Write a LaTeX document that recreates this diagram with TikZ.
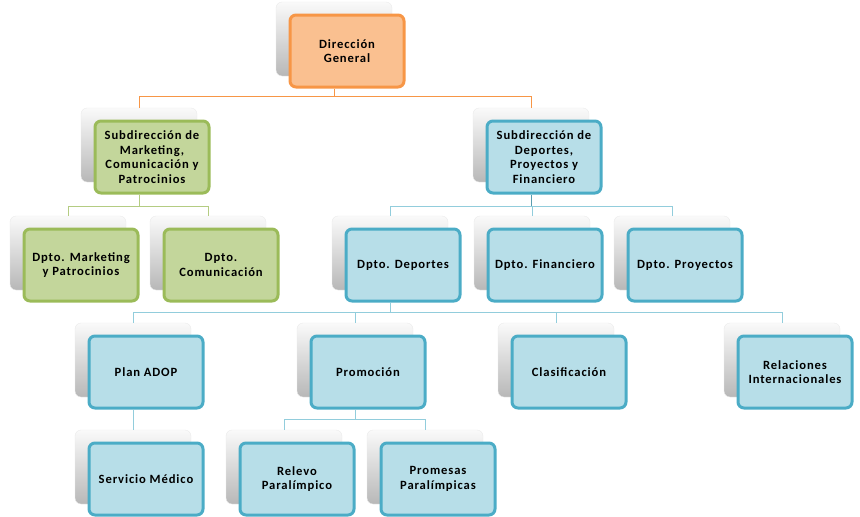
\documentclass[tikz,border=0pt]{standalone}
\usepackage{fontspec}
\setmainfont{Carlito}[LetterSpace=7]

\definecolor{orangeFill}{HTML}{FAC090}
\definecolor{orangeLine}{HTML}{F79646}
\definecolor{greenFill}{HTML}{C3D69B}
\definecolor{greenLine}{HTML}{9BBB59}
\definecolor{blueFill}{HTML}{B7DEE8}
\definecolor{blueLine}{HTML}{4BACC6}
\definecolor{blueWire}{HTML}{92CDDC}
\definecolor{blueDark}{HTML}{31859C}

\tikzset{
   orgbox/.style={rectangle, rounded corners=6pt, line width=3pt,
      minimum width=114pt, minimum height=72pt, inner sep=1pt,
      align=center, font=\bfseries\fontsize{12.6}{14.5}\selectfont},
   orangebox/.style={orgbox, draw=orangeLine, fill=orangeFill},
   greenbox/.style={orgbox, draw=greenLine, fill=greenFill},
   bluebox/.style={orgbox, draw=blueLine, fill=blueFill},
   backcard/.style={rectangle, rounded corners=6pt, draw=black!8,
      minimum width=116pt, minimum height=74pt,
      top color=black!2, bottom color=black!28,
      xshift=-13pt, yshift=12pt},
   orangewire/.style={draw=orangeLine, line width=0.9pt},
   greenwire/.style={draw=greenLine!75, line width=0.9pt},
   bluewire/.style={draw=blueWire, line width=0.9pt}
}

% caja con tarjeta gris detras: nombre, posicion, estilo, texto
\newcommand{\orgnode}[4]{%
   \node[backcard] (#1Back) at (#2) {};
   \node[#3] (#1) at (#2) {#4};}

\begin{document}
\begin{tikzpicture}[x=1pt, y=-1pt]
   %% coordenadas en pixeles, y hacia abajo
   \useasboundingbox (0,0) rectangle (860,517);

   \orgnode{Dir}{347,51}{orangebox}{Dirección\\General}
   \orgnode{SubMkt}{152,157}{greenbox}{Subdirección de\\Marketing,\\Comunicación y\\Patrocinios}
   \orgnode{SubDep}{544,157}{bluebox}{Subdirección de\\Deportes,\\Proyectos y\\Financiero}
   \orgnode{DptMkt}{81,265}{greenbox}{Dpto. Marketing\\y Patrocinios}
   \orgnode{DptCom}{221,265}{greenbox}{Dpto.\\Comunicación}
   \orgnode{DptDep}{403,265}{bluebox}{Dpto. Deportes}
   \orgnode{DptFin}{545,265}{bluebox}{Dpto. Financiero}
   \orgnode{DptPro}{685,265}{bluebox}{Dpto. Proyectos}
   \orgnode{Plan}{146,372}{bluebox}{Plan ADOP}
   \orgnode{Prom}{368,372}{bluebox}{Promoción}
   \orgnode{Clas}{569,372}{bluebox}{Clasificación}
   \orgnode{RelInt}{795,372}{bluebox}{Relaciones\\Internacionales}
   \orgnode{ServMed}{146,479}{bluebox}{Servicio Médico}
   \orgnode{Relevo}{297,479}{bluebox}{Relevo\\Paralímpico}
   \orgnode{Promesas}{438,479}{bluebox}{Promesas\\Paralímpicas}

   %% Direccion General
   \draw[orangewire] (DirBack.south |- Dir.south) -- ++(0,8) coordinate (DirBus);
   \draw[orangewire] (DirBus) -| (SubMktBack.north)
   (DirBus) -| (SubDepBack.north);

   %% Subdireccion Marketing
   \draw[greenwire] (SubMktBack.south |- SubMkt.south) -- ++(0,12) coordinate (MktBus);
   \draw[greenwire] (MktBus) -| (DptMktBack.north)
   (MktBus) -| (DptComBack.north);

   %% Subdireccion Deportes
   \draw[draw=blueDark!80, line width=0.9pt] (SubDepBack.south |- SubDep.south) -- ++(0,12) coordinate (DepBus);
   \draw[bluewire] (DepBus) -| (DptDepBack.north)
   (DepBus) -| (DptFinBack.north)
   (DepBus) -| (DptProBack.north);

   %% Dpto. Deportes
   \draw[bluewire] (DptDepBack.south |- DptDep.south) -- ++(0,10) coordinate (DdBus);
   \draw[bluewire] (DdBus) -| (PlanBack.north)
   (DdBus) -| (PromBack.north)
   (DdBus) -| (ClasBack.north)
   (DdBus) -| (RelIntBack.north);

   %% Plan ADOP y Promocion
   \draw[bluewire] (PlanBack.south |- Plan.south) -- (ServMedBack.north);
   \draw[bluewire] (PromBack.south |- Prom.south) -- ++(0,10) coordinate (PromBus);
   \draw[bluewire] (PromBus) -| (RelevoBack.north)
   (PromBus) -| (PromesasBack.north);

\end{tikzpicture}
\end{document}
